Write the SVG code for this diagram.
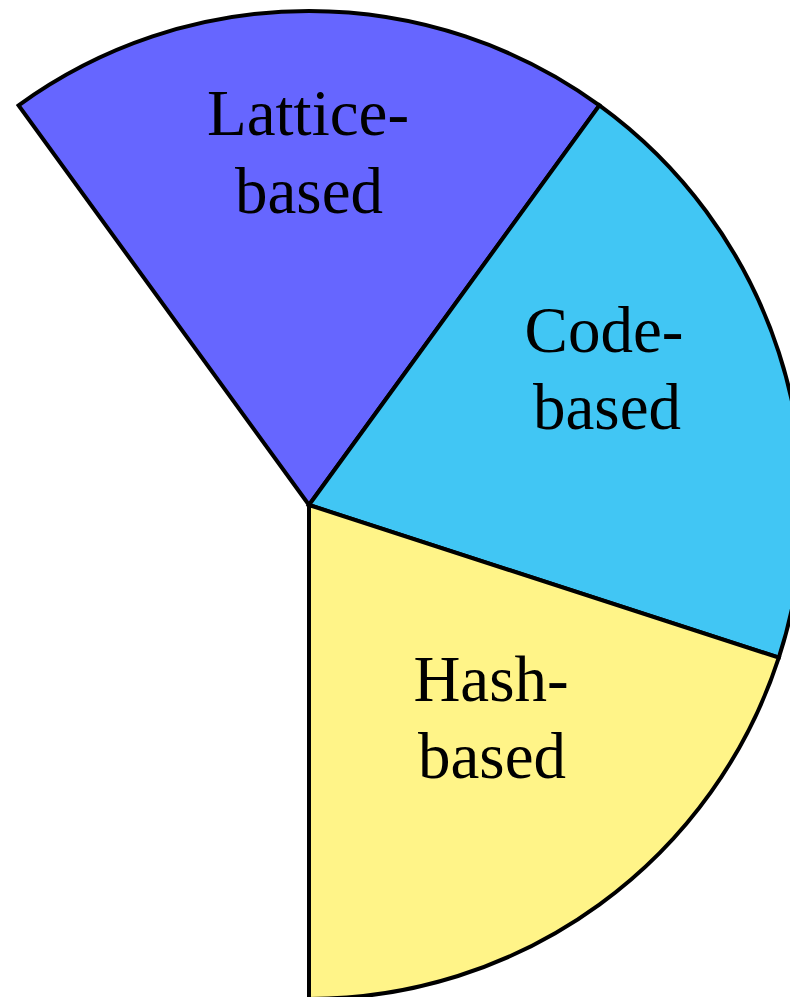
<svg xmlns="http://www.w3.org/2000/svg" width="790" height="997" viewBox="0 0 790 997">
  <style>
    .slice { stroke: #000000; stroke-width: 4; stroke-linejoin: miter; }
    .label { font-family: "Liberation Serif", "DejaVu Serif", serif; font-size: 65px; fill: #000000; text-anchor: middle; }
  </style>
  <rect x="0" y="0" width="790" height="997" fill="#ffffff"/>
  <!-- pie slices: centre (309,505), radius 494, 72 degrees each -->
  <g id="lattice">
    <path class="slice" fill="#6666FF" d="M309,505 L18.6,105.4 A494,494 0 0 1 599.4,105.4 Z"/>
    <text class="label" x="308" y="135">Lattice-</text>
    <text class="label" x="309" y="213">based</text>
  </g>
  <g id="code">
    <path class="slice" fill="#41C6F4" d="M309,505 L599.4,105.4 A494,494 0 0 1 778.8,657.6 Z"/>
    <text class="label" x="604" y="352">Code-</text>
    <text class="label" x="607" y="429">based</text>
  </g>
  <g id="hash">
    <path class="slice" fill="#FFF488" d="M309,505 L778.8,657.6 A494,494 0 0 1 309,999 Z"/>
    <text class="label" x="491" y="701">Hash-</text>
    <text class="label" x="492" y="778">based</text>
  </g>
  <g id="connectors"/>
</svg>
